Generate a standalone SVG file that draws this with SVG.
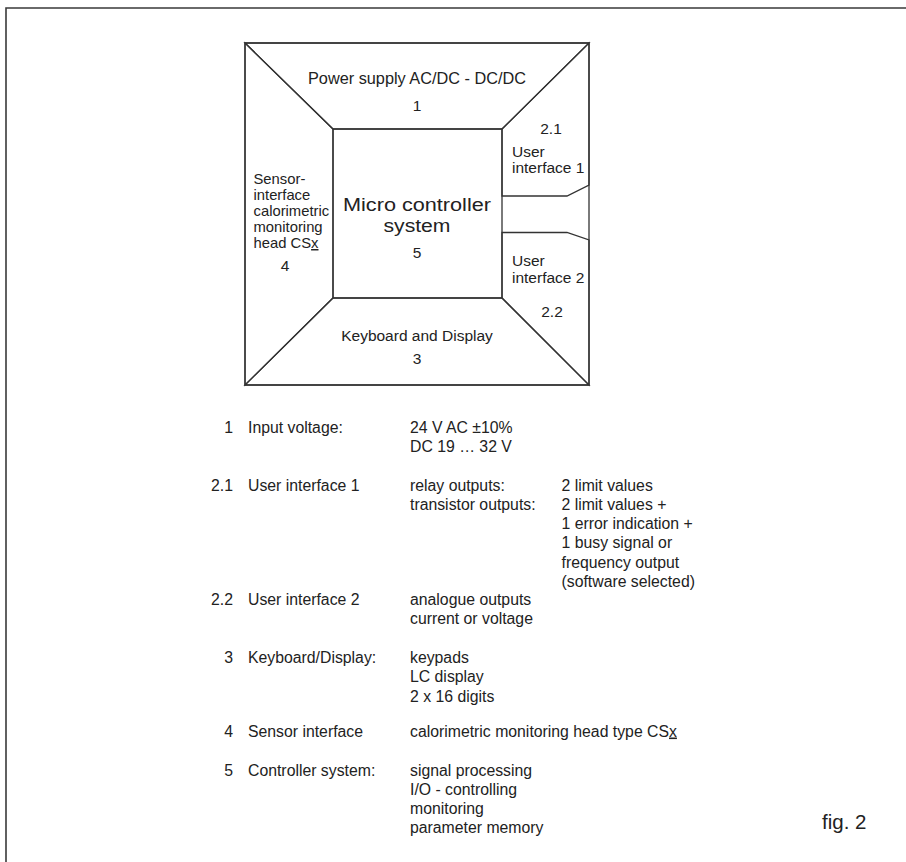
<svg xmlns="http://www.w3.org/2000/svg" width="906" height="862" viewBox="0 0 906 862">
<style>
.ln{fill:none;stroke:#333;stroke-width:1.3;stroke-linejoin:miter}
.fr{fill:none;stroke:#3a3a3a;stroke-width:1.6}
text{font-family:"Liberation Sans",Arial,Helvetica,sans-serif;fill:#222}
.t{font-size:15.5px}
.s{font-size:14.8px}
.ti{font-size:16.3px}
.c{text-anchor:middle}
.e{text-anchor:end}
.big{font-size:18.8px}
.tb{font-size:15.8px}
</style>
<rect width="906" height="862" fill="#fff"/>
<path class="fr" d="M6,862 V8 H906"/>
<g id="outline"><rect class="ln" x="245" y="43" width="344" height="342"/></g>
<g id="power-supply">
<polygon class="ln" points="245,43 589,43 502,129 333,129"/>
<text class="ti c" x="417" y="84">Power supply AC/DC - DC/DC</text>
<text class="t c" x="417" y="111">1</text>
</g>
<g id="user-interface-1">
<polygon class="ln" points="589,43 589,185 567,196 502,196 502,129"/>
<text class="t c" x="551" y="134">2.1</text>
<text class="t" x="512" y="157">User</text>
<text class="t" x="512" y="173">interface 1</text>
</g>
<g id="user-interface-2">
<polygon class="ln" points="502,232.5 567,232.5 589,240 589,385 502,298"/>
<text class="t" x="512" y="266">User</text>
<text class="t" x="512" y="283">interface 2</text>
<text class="t c" x="552" y="317">2.2</text>
</g>
<g id="keyboard-display">
<polygon class="ln" points="333,298 502,298 589,385 245,385"/>
<text class="t c" x="417" y="341">Keyboard and Display</text>
<text class="t c" x="417" y="364">3</text>
</g>
<g id="sensor-interface">
<polygon class="ln" points="245,43 333,129 333,298 245,385"/>
<text class="s" x="253.5" y="184">Sensor-</text>
<text class="s" x="253.5" y="200">interface</text>
<text class="s" x="253.5" y="216">calorimetric</text>
<text class="s" x="253.5" y="232">monitoring</text>
<text class="s" x="253.5" y="248">head CS<tspan text-decoration="underline">x</tspan></text>
<text class="t c" x="285" y="271">4</text>
</g>
<g id="micro-controller">
<rect class="ln" x="333" y="129" width="169" height="169"/>
<text class="big" x="343" y="211" textLength="148" lengthAdjust="spacingAndGlyphs">Micro controller</text>
<text class="big" x="383.5" y="232" textLength="67" lengthAdjust="spacingAndGlyphs">system</text>
<text class="t c" x="417" y="258">5</text>
</g>
<g id="connectors"></g>
<g id="legend" class="tb">
<text class="tb e" x="233" y="433">1</text>
<text class="tb" x="248" y="433">Input voltage:</text>
<text class="tb" x="410" y="433">24 V AC ±10%</text>
<text class="tb" x="410" y="452">DC 19 … 32 V</text>
<text class="tb e" x="233" y="491">2.1</text>
<text class="tb" x="248" y="491">User interface 1</text>
<text class="tb" x="410" y="491">relay outputs:</text>
<text class="tb" x="410" y="510">transistor outputs:</text>
<text class="tb" x="561.5" y="491">2 limit values</text>
<text class="tb" x="561.5" y="510">2 limit values +</text>
<text class="tb" x="561.5" y="529">1 error indication +</text>
<text class="tb" x="561.5" y="548">1 busy signal or</text>
<text class="tb" x="561.5" y="567.5">frequency output</text>
<text class="tb" x="561.5" y="587">(software selected)</text>
<text class="tb e" x="233" y="605">2.2</text>
<text class="tb" x="248" y="605">User interface 2</text>
<text class="tb" x="410" y="605">analogue outputs</text>
<text class="tb" x="410" y="624">current or voltage</text>
<text class="tb e" x="233" y="663">3</text>
<text class="tb" x="248" y="663">Keyboard/Display:</text>
<text class="tb" x="410" y="663">keypads</text>
<text class="tb" x="410" y="682">LC display</text>
<text class="tb" x="410" y="701.5">2 x 16 digits</text>
<text class="tb e" x="233" y="736.5">4</text>
<text class="tb" x="248" y="736.5">Sensor interface</text>
<text class="tb" x="410" y="736.5">calorimetric monitoring head type CS<tspan text-decoration="underline">x</tspan></text>
<text class="tb e" x="233" y="775.5">5</text>
<text class="tb" x="248" y="775.5">Controller system:</text>
<text class="tb" x="410" y="775.5">signal processing</text>
<text class="tb" x="410" y="795">I/O - controlling</text>
<text class="tb" x="410" y="814">monitoring</text>
<text class="tb" x="410" y="833">parameter memory</text>
</g>
<text x="822" y="829" style="font-size:20.5px">fig. 2</text>
</svg>
